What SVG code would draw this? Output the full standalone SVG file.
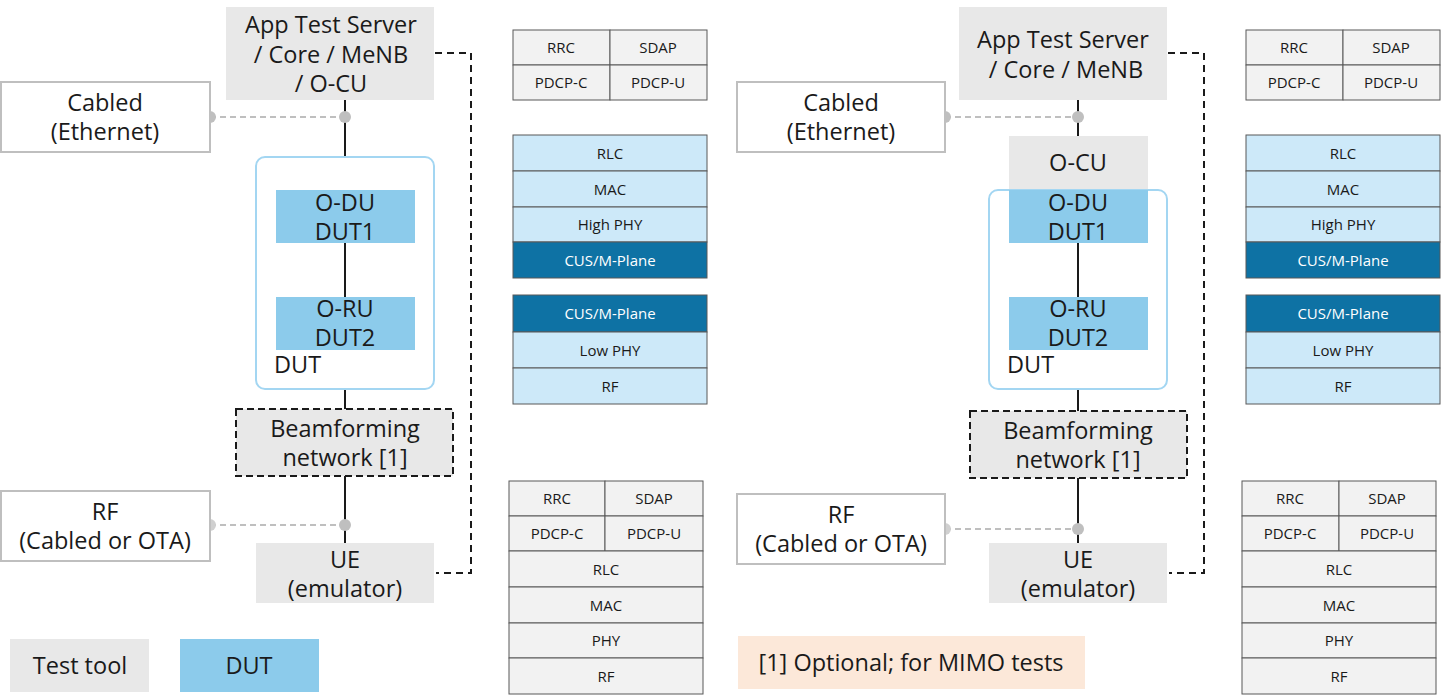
<svg xmlns="http://www.w3.org/2000/svg" width="1441" height="697" viewBox="0 0 1441 697">
<style>
text{font-family:"Open Sans","Noto Sans","DejaVu Sans",sans-serif;fill:#1a1a1a;text-anchor:middle}
.big{font-size:23.5px}
.sm{font-size:15px}
.w{fill:#ffffff}
.tool{fill:#e8e8e8}
.dut{fill:#8ccbeb}
.ext{fill:#ffffff;stroke:#bfbfbf;stroke-width:2}
.cont{fill:none;stroke:#a3d6f2;stroke-width:2}
.bf{fill:#e8e8e8;stroke:#1a1a1a;stroke-width:2;stroke-dasharray:7,4}
.solid{stroke:#1a1a1a;stroke-width:2;fill:none}
.gdash{stroke:#bfbfbf;stroke-width:2;stroke-dasharray:6,4;fill:none}
.kdash{stroke:#1a1a1a;stroke-width:2;stroke-dasharray:7,5;fill:none}
.dot{fill:#bfbfbf}
.g{fill:#f2f2f2;stroke:#595959;stroke-width:1}
.lb{fill:#cde9f9;stroke:#595959;stroke-width:1}
.db{fill:#0e72a4;stroke:#595959;stroke-width:1}
</style>

<g id="connectors">
  <line class="solid" x1="345" y1="100" x2="345" y2="157"/>
  <line class="solid" x1="345" y1="243" x2="345" y2="297"/>
  <line class="solid" x1="345" y1="389" x2="345" y2="409"/>
  <line class="solid" x1="345" y1="476" x2="345" y2="543"/>
  <line class="gdash" x1="210" y1="117" x2="345" y2="117"/>
  <circle class="dot" cx="210" cy="117" r="6"/>
  <circle class="dot" cx="345" cy="117" r="6"/>
  <line class="gdash" x1="210" y1="525" x2="345" y2="525"/>
  <circle cx="210" cy="525" r="6" fill="#d0d0d0"/>
  <circle class="dot" cx="345" cy="525" r="6"/>
  <polyline class="kdash" points="435,53 471,53 471,573 436,573"/>

  <line class="solid" x1="1078" y1="100" x2="1078" y2="136"/>
  <line class="solid" x1="1078" y1="243" x2="1078" y2="297"/>
  <line class="solid" x1="1078" y1="389" x2="1078" y2="411"/>
  <line class="solid" x1="1078" y1="478" x2="1078" y2="543"/>
  <line class="gdash" x1="945" y1="117" x2="1078" y2="117"/>
  <circle class="dot" cx="945" cy="117" r="6"/>
  <circle class="dot" cx="1078" cy="117" r="6"/>
  <line class="gdash" x1="945" y1="529" x2="1078" y2="529"/>
  <circle cx="945" cy="529" r="6" fill="#d0d0d0"/>
  <circle class="dot" cx="1078" cy="529" r="6"/>
  <polyline class="kdash" points="1168,53 1204,53 1204,573 1169,573"/>
</g>

<g id="L-server">
  <rect class="tool" x="226" y="7" width="208" height="93"/>
  <text class="big" x="331" y="33">App Test Server</text>
  <text class="big" x="331" y="63">/ Core / MeNB</text>
  <text class="big" x="331" y="92">/ O-CU</text>
</g>
<g id="L-cabled">
  <rect class="ext" x="1" y="82" width="209" height="70"/>
  <text class="big" x="105" y="111">Cabled</text>
  <text class="big" x="105" y="140">(Ethernet)</text>
</g>
<g id="L-dut">
  <rect class="cont" x="256" y="157" width="178" height="232" rx="9"/>
  <text class="big" x="274" y="373" style="text-anchor:start">DUT</text>
</g>
<g id="L-odu">
  <rect class="dut" x="276" y="190" width="139" height="53"/>
  <text class="big" x="345" y="211">O-DU</text>
  <text class="big" x="345" y="240">DUT1</text>
</g>
<g id="L-oru">
  <rect class="dut" x="276" y="297" width="139" height="53"/>
  <text class="big" x="345" y="317">O-RU</text>
  <text class="big" x="345" y="346">DUT2</text>
</g>
<g id="L-bf">
  <rect class="bf" x="236" y="409" width="217" height="67"/>
  <text class="big" x="345" y="437">Beamforming</text>
  <text class="big" x="345" y="466">network [1]</text>
</g>
<g id="L-rf">
  <rect class="ext" x="1" y="491" width="209" height="70"/>
  <text class="big" x="105" y="520">RF</text>
  <text class="big" x="105" y="549">(Cabled or OTA)</text>
</g>
<g id="L-ue">
  <rect class="tool" x="256" y="543" width="178" height="60"/>
  <text class="big" x="345" y="568">UE</text>
  <text class="big" x="345" y="597">(emulator)</text>
</g>
<g id="legend-tool">
  <rect class="tool" x="10" y="639" width="139" height="53"/>
  <text class="big" x="80" y="674">Test tool</text>
</g>
<g id="legend-dut">
  <rect class="dut" x="180" y="639" width="139" height="53"/>
  <text class="big" x="249" y="674">DUT</text>
</g>

<g id="L-stack-cu">
  <rect class="g" x="513" y="30" width="97" height="35"/><rect class="g" x="610" y="30" width="97" height="35"/>
  <rect class="g" x="513" y="65" width="97" height="35"/><rect class="g" x="610" y="65" width="97" height="35"/>
  <text class="sm" x="561" y="53">RRC</text><text class="sm" x="658" y="53">SDAP</text>
  <text class="sm" x="561" y="88">PDCP-C</text><text class="sm" x="658" y="88">PDCP-U</text>
</g>
<g id="L-stack-du">
  <rect class="lb" x="513" y="135" width="194" height="36"/>
  <rect class="lb" x="513" y="171" width="194" height="36"/>
  <rect class="lb" x="513" y="207" width="194" height="35"/>
  <rect class="db" x="513" y="242" width="194" height="36"/>
  <text class="sm" x="610" y="159">RLC</text>
  <text class="sm" x="610" y="195">MAC</text>
  <text class="sm" x="610" y="230">High PHY</text>
  <text class="sm w" x="610" y="266">CUS/M-Plane</text>
</g>
<g id="L-stack-ru">
  <rect class="db" x="513" y="295" width="194" height="37"/>
  <rect class="lb" x="513" y="332" width="194" height="36"/>
  <rect class="lb" x="513" y="368" width="194" height="36"/>
  <text class="sm w" x="610" y="319">CUS/M-Plane</text>
  <text class="sm" x="610" y="356">Low PHY</text>
  <text class="sm" x="610" y="392">RF</text>
</g>
<g id="L-stack-ue">
  <rect class="g" x="509" y="481" width="96" height="35"/><rect class="g" x="605" y="481" width="98" height="35"/>
  <rect class="g" x="509" y="516" width="96" height="35"/><rect class="g" x="605" y="516" width="98" height="35"/>
  <rect class="g" x="509" y="551" width="194" height="36"/>
  <rect class="g" x="509" y="587" width="194" height="36"/>
  <rect class="g" x="509" y="623" width="194" height="35"/>
  <rect class="g" x="509" y="658" width="194" height="36"/>
  <text class="sm" x="557" y="504">RRC</text><text class="sm" x="654" y="504">SDAP</text>
  <text class="sm" x="557" y="539">PDCP-C</text><text class="sm" x="654" y="539">PDCP-U</text>
  <text class="sm" x="606" y="575">RLC</text>
  <text class="sm" x="606" y="611">MAC</text>
  <text class="sm" x="606" y="646">PHY</text>
  <text class="sm" x="606" y="682">RF</text>
</g>

<g id="R-server">
  <rect class="tool" x="959" y="7" width="208" height="93"/>
  <text class="big" x="1063" y="48">App Test Server</text>
  <text class="big" x="1066" y="78">/ Core / MeNB</text>
</g>
<g id="R-cabled">
  <rect class="ext" x="737" y="82" width="208" height="70"/>
  <text class="big" x="841" y="111">Cabled</text>
  <text class="big" x="841" y="140">(Ethernet)</text>
</g>
<g id="R-ocu">
  <rect class="tool" x="1009" y="136" width="139" height="54"/>
  <text class="big" x="1078" y="171">O-CU</text>
</g>
<g id="R-dut">
  <rect class="cont" x="989" y="190" width="178" height="199" rx="9"/>
  <text class="big" x="1007" y="373" style="text-anchor:start">DUT</text>
</g>
<g id="R-odu">
  <rect class="dut" x="1009" y="190" width="139" height="53"/>
  <text class="big" x="1078" y="211">O-DU</text>
  <text class="big" x="1078" y="240">DUT1</text>
</g>
<g id="R-oru">
  <rect class="dut" x="1009" y="297" width="139" height="53"/>
  <text class="big" x="1078" y="317">O-RU</text>
  <text class="big" x="1078" y="346">DUT2</text>
</g>
<g id="R-bf">
  <rect class="bf" x="970" y="411" width="217" height="67"/>
  <text class="big" x="1078" y="439">Beamforming</text>
  <text class="big" x="1078" y="468">network [1]</text>
</g>
<g id="R-rf">
  <rect class="ext" x="737" y="494" width="208" height="70"/>
  <text class="big" x="841" y="523">RF</text>
  <text class="big" x="841" y="552">(Cabled or OTA)</text>
</g>
<g id="R-ue">
  <rect class="tool" x="989" y="543" width="178" height="60"/>
  <text class="big" x="1078" y="568">UE</text>
  <text class="big" x="1078" y="597">(emulator)</text>
</g>
<g id="footnote">
  <rect x="738" y="636" width="347" height="53" fill="#fce8d9"/>
  <text class="big" x="911" y="671">[1] Optional; for MIMO tests</text>
</g>

<g id="R-stack-cu">
  <rect class="g" x="1246" y="30" width="97" height="35"/><rect class="g" x="1343" y="30" width="97" height="35"/>
  <rect class="g" x="1246" y="65" width="97" height="35"/><rect class="g" x="1343" y="65" width="97" height="35"/>
  <text class="sm" x="1294" y="53">RRC</text><text class="sm" x="1391" y="53">SDAP</text>
  <text class="sm" x="1294" y="88">PDCP-C</text><text class="sm" x="1391" y="88">PDCP-U</text>
</g>
<g id="R-stack-du">
  <rect class="lb" x="1246" y="135" width="194" height="36"/>
  <rect class="lb" x="1246" y="171" width="194" height="36"/>
  <rect class="lb" x="1246" y="207" width="194" height="35"/>
  <rect class="db" x="1246" y="242" width="194" height="36"/>
  <text class="sm" x="1343" y="159">RLC</text>
  <text class="sm" x="1343" y="195">MAC</text>
  <text class="sm" x="1343" y="230">High PHY</text>
  <text class="sm w" x="1343" y="266">CUS/M-Plane</text>
</g>
<g id="R-stack-ru">
  <rect class="db" x="1246" y="295" width="194" height="37"/>
  <rect class="lb" x="1246" y="332" width="194" height="36"/>
  <rect class="lb" x="1246" y="368" width="194" height="36"/>
  <text class="sm w" x="1343" y="319">CUS/M-Plane</text>
  <text class="sm" x="1343" y="356">Low PHY</text>
  <text class="sm" x="1343" y="392">RF</text>
</g>
<g id="R-stack-ue">
  <rect class="g" x="1242" y="481" width="97" height="35"/><rect class="g" x="1339" y="481" width="97" height="35"/>
  <rect class="g" x="1242" y="516" width="97" height="35"/><rect class="g" x="1339" y="516" width="97" height="35"/>
  <rect class="g" x="1242" y="551" width="194" height="36"/>
  <rect class="g" x="1242" y="587" width="194" height="36"/>
  <rect class="g" x="1242" y="623" width="194" height="35"/>
  <rect class="g" x="1242" y="658" width="194" height="36"/>
  <text class="sm" x="1290" y="504">RRC</text><text class="sm" x="1387" y="504">SDAP</text>
  <text class="sm" x="1290" y="539">PDCP-C</text><text class="sm" x="1387" y="539">PDCP-U</text>
  <text class="sm" x="1339" y="575">RLC</text>
  <text class="sm" x="1339" y="611">MAC</text>
  <text class="sm" x="1339" y="646">PHY</text>
  <text class="sm" x="1339" y="682">RF</text>
</g>
</svg>
